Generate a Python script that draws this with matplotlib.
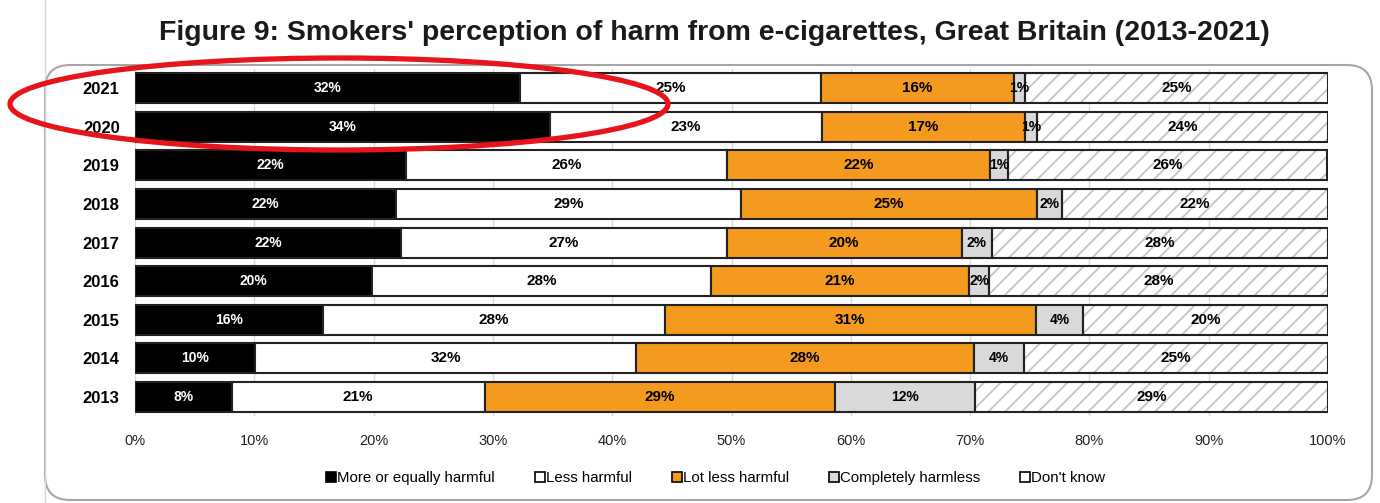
import numpy as np
import matplotlib
matplotlib.use('Agg')
import matplotlib.pyplot as plt
from matplotlib.patches import Ellipse, FancyBboxPatch
from matplotlib.lines import Line2D

plt.rcParams['font.family'] = ['Liberation Sans', 'DejaVu Sans']
plt.rcParams['hatch.linewidth'] = 1.3

# Données (en %)
years = ['2013', '2014', '2015', '2016', '2017', '2018', '2019', '2020', '2021']
more_harmful = [8.1, 10.1, 15.8, 19.9, 22.3, 21.9, 22.7, 34.8, 32.3]
less_harmful = [21.2, 31.9, 28.6, 28.4, 27.3, 28.9, 26.9, 22.8, 25.2]
lot_less = [29.4, 28.3, 31.1, 21.6, 19.7, 24.8, 22.1, 17.0, 16.2]
harmless = [11.7, 4.2, 4.0, 1.7, 2.5, 2.1, 1.5, 1.0, 0.9]
dont_know = [29.6, 25.5, 20.5, 28.4, 28.2, 22.3, 26.7, 24.4, 25.4]

labels_more = ['8%', '10%', '16%', '20%', '22%', '22%', '22%', '34%', '32%']
labels_less = ['21%', '32%', '28%', '28%', '27%', '29%', '26%', '23%', '25%']
labels_lot = ['29%', '28%', '31%', '21%', '20%', '25%', '22%', '17%', '16%']
labels_harmless = ['12%', '4%', '4%', '2%', '2%', '2%', '1%', '1%', '1%']
labels_dk = ['29%', '25%', '20%', '28%', '28%', '22%', '26%', '24%', '25%']

series = [
    ('More or equally harmful', more_harmful, labels_more, 'black', 'white', 10),
    ('Less harmful', less_harmful, labels_less, 'white', 'black', 11),
    ('Lot less harmful', lot_less, labels_lot, '#f39a1f', 'black', 11),
    ('Completely harmless', harmless, labels_harmless, '#d9d9d9', 'black', 10),
    ("Don't know", dont_know, labels_dk, 'white', 'black', 11),
]

fig = plt.figure(figsize=(13.8, 5.03), dpi=100)
ax = fig.add_axes([135 / 1380, 1 - 416.3 / 503, 1193 / 1380, 347.4 / 503])

y = np.arange(len(years))
left = np.zeros(len(years))
handles = []
for name, vals, labs, color, tcolor, fs in series:
    vals = np.array(vals)
    if name == "Don't know":
        ax.barh(y, vals, left=left, height=0.78, color='white', edgecolor='#c4c4c4',
                hatch='//', linewidth=0, zorder=2)
        ax.barh(y, vals, left=left, height=0.78, color='none', edgecolor='#222222',
                linewidth=1.5, zorder=3)
    else:
        ax.barh(y, vals, left=left, height=0.78, color=color, edgecolor='#222222',
                linewidth=1.5, zorder=3)
    for yi, l, v, t in zip(y, left, vals, labs):
        ax.text(l + v / 2, yi, t, ha='center', va='center', color=tcolor,
                fontsize=fs, fontweight='bold', zorder=4)
    left = left + vals
    handles.append(Line2D([], [], marker='s', linestyle='none', markersize=7,
                          markerfacecolor=color, markeredgecolor='black',
                          markeredgewidth=1.2, label=name))

ax.set_xlim(0, 100)
ax.set_ylim(-0.5, len(years) - 0.5)
ax.set_xticks(np.arange(0, 101, 10))
ax.set_xticklabels([f'{v}%' for v in range(0, 101, 10)], fontsize=10.5, color='#222222')
ax.set_yticks(y)
ax.set_yticklabels(years, fontsize=12, fontweight='bold')
ax.tick_params(axis='x', length=0, pad=13)
ax.tick_params(axis='y', length=0, pad=11)
for s in ax.spines.values():
    s.set_visible(False)
ax.xaxis.grid(True, color='#d9d9d9', linewidth=1, zorder=0)
ax.set_axisbelow(True)

fig.legend(handles=handles, loc='center', bbox_to_anchor=(716 / 1380, 1 - 478 / 503),
           ncol=5, frameon=False, fontsize=10.8, handlelength=0.6, handletextpad=0.1,
           columnspacing=2.7)

fig.text(714 / 1380, 1 - 33 / 503,
         "Figure 9: Smokers' perception of harm from e-cigarettes, Great Britain (2013-2021)",
         ha='center', va='center', fontsize=20.5, fontweight='bold', color='#1a1a1a')

# Cadre arrondi autour du graphique
frame = FancyBboxPatch((45 / 100, (503 - 500) / 100), (1372 - 45) / 100, (500 - 65) / 100,
                       boxstyle='round,pad=0,rounding_size=0.25', transform=fig.dpi_scale_trans,
                       facecolor='none', edgecolor='#a6a6a6', linewidth=1.5, zorder=0)
fig.add_artist(frame)
fig.add_artist(Line2D([45 / 1380, 45 / 1380], [0, 1], transform=fig.transFigure,
                      color='#d9d9d9', linewidth=1))

# Ellipse rouge (2020-2021)
ell = Ellipse((339 / 1380, 1 - 104 / 503), 658 / 1380, 92 / 503, transform=fig.transFigure,
              facecolor='none', edgecolor='#e8141b', linewidth=3.8, zorder=10)
fig.add_artist(ell)

fig.savefig('out.png', dpi=100)
